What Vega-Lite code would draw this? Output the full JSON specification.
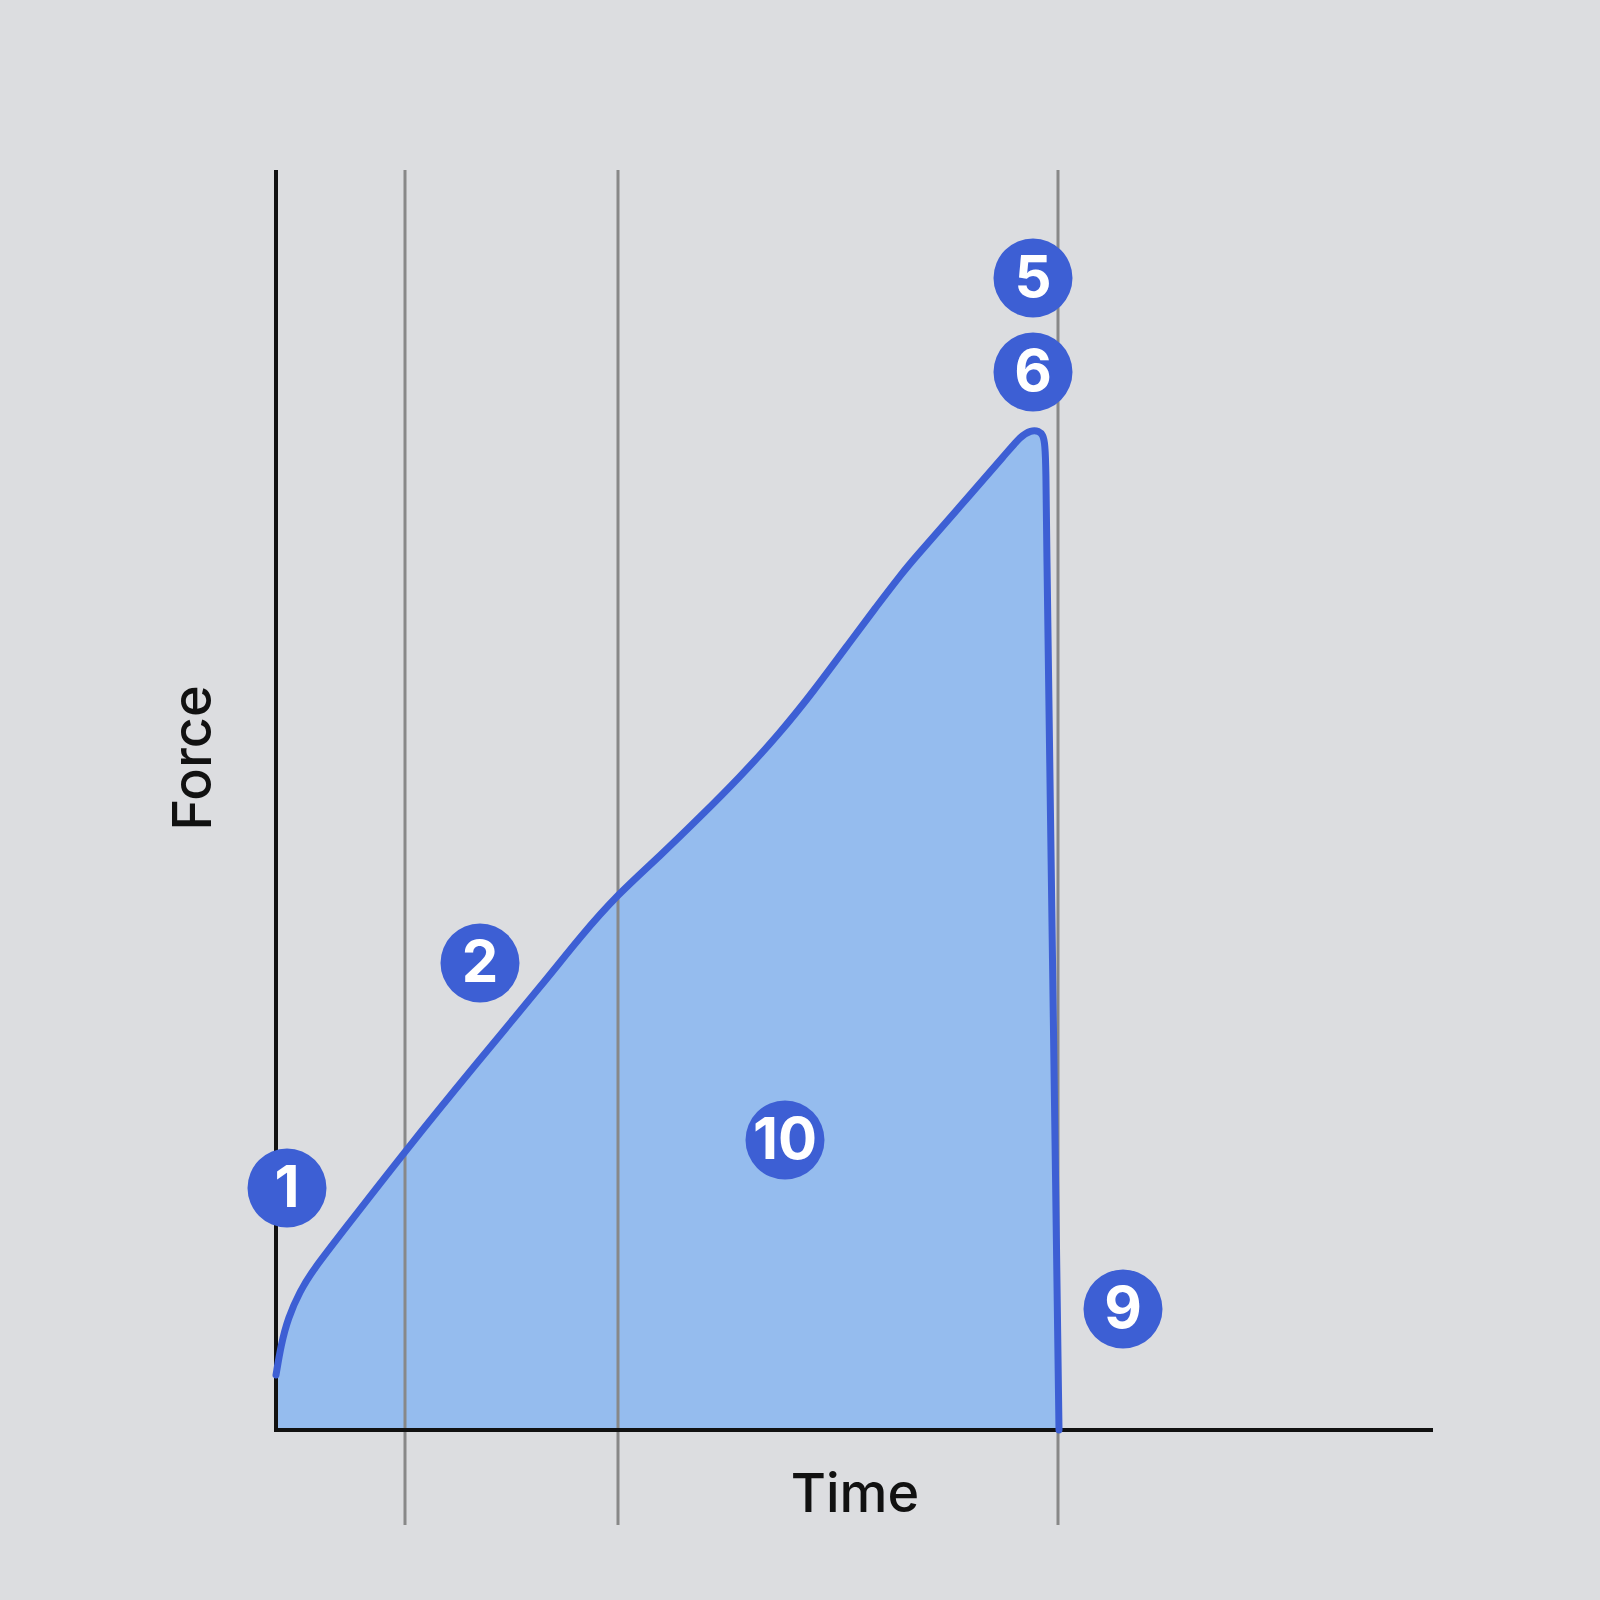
{
  "$schema": "https://vega.github.io/schema/vega-lite/v6.json",
  "width": 1600,
  "height": 1600,
  "padding": 0,
  "autosize": {"type": "fit", "contains": "padding"},
  "background": "#dcdde0",
  "config": {
    "view": {"stroke": null},
    "font": "Inter"
  },
  "datasets": {
    "curve": [
      {"time": 0.0, "force": 0.55},
      {"time": 0.05, "force": 0.85},
      {"time": 0.12, "force": 1.12},
      {"time": 0.24, "force": 1.39},
      {"time": 0.37, "force": 1.6},
      {"time": 0.64, "force": 1.95},
      {"time": 1.3, "force": 2.8},
      {"time": 2.0, "force": 3.66},
      {"time": 2.7, "force": 4.5},
      {"time": 3.04, "force": 4.93},
      {"time": 3.42, "force": 5.36},
      {"time": 3.84, "force": 5.74},
      {"time": 4.24, "force": 6.13},
      {"time": 4.64, "force": 6.53},
      {"time": 5.04, "force": 6.97},
      {"time": 5.37, "force": 7.38},
      {"time": 5.74, "force": 7.88},
      {"time": 6.0, "force": 8.23},
      {"time": 6.27, "force": 8.58},
      {"time": 6.37, "force": 8.7},
      {"time": 6.8, "force": 9.19},
      {"time": 7.34, "force": 9.81},
      {"time": 7.44, "force": 9.93},
      {"time": 7.55, "force": 10.0},
      {"time": 7.63, "force": 9.99},
      {"time": 7.67, "force": 9.95},
      {"time": 7.69, "force": 9.86},
      {"time": 7.7, "force": 9.6},
      {"time": 7.705, "force": 8.99},
      {"time": 7.74, "force": 6.5},
      {"time": 7.8, "force": 2.2},
      {"time": 7.83, "force": 0.0}
    ],
    "guides": [
      {"time": 1.29, "force": 12.6, "time2": 1.29, "force2": -0.95},
      {"time": 3.42, "force": 12.6, "time2": 3.42, "force2": -0.95},
      {"time": 7.82, "force": 12.6, "time2": 7.82, "force2": -0.95}
    ],
    "axes": [
      {"time": 0, "force": 12.6, "time2": 0, "force2": -0.02},
      {"time": 0, "force": 0, "time2": 11.57, "force2": 0}
    ],
    "badges": [
      {"label": "1", "time": 0.11, "force": 2.42},
      {"label": "2", "time": 2.04, "force": 4.67},
      {"label": "5", "time": 7.57, "force": 11.52},
      {"label": "6", "time": 7.57, "force": 10.58},
      {"label": "9", "time": 8.47, "force": 1.21},
      {"label": "10", "time": 5.09, "force": 2.9}
    ],
    "titles": [
      {"title": "Force", "time": -0.81, "force": 6.72, "angle": 270},
      {"title": "Time", "time": 5.79, "force": -0.66, "angle": 0}
    ]
  },
  "encoding": {
    "x": {
      "field": "time",
      "type": "quantitative",
      "scale": {"domain": [-2.76, 13.24], "nice": false, "zero": false},
      "axis": null
    },
    "y": {
      "field": "force",
      "type": "quantitative",
      "scale": {"domain": [-1.7, 14.3], "nice": false, "zero": false},
      "axis": null
    }
  },
  "layer": [
    {
      "data": {"name": "curve"},
      "mark": {"type": "area", "color": "#95bcee", "interpolate": "basis"},
      "encoding": {"y2": {"datum": 0}}
    },
    {
      "data": {"name": "guides"},
      "mark": {"type": "rule", "color": "#888888", "strokeWidth": 3},
      "encoding": {
        "x2": {"field": "time2"},
        "y2": {"field": "force2"}
      }
    },
    {
      "data": {"name": "axes"},
      "mark": {"type": "rule", "color": "#111111", "strokeWidth": 4},
      "encoding": {
        "x2": {"field": "time2"},
        "y2": {"field": "force2"}
      }
    },
    {
      "data": {"name": "curve"},
      "mark": {
        "type": "line",
        "color": "#3d5fd4",
        "strokeWidth": 7,
        "interpolate": "basis",
        "strokeCap": "round",
        "strokeJoin": "round"
      },
      "encoding": {}
    },
    {
      "data": {"name": "badges"},
      "mark": {"type": "point", "shape": "circle", "filled": true, "color": "#3d5fd4", "opacity": 1, "size": 6240}
    },
    {
      "data": {"name": "badges"},
      "mark": {
        "type": "text",
        "color": "white",
        "fontSize": 58,
        "fontWeight": "bold",
        "align": "center",
        "baseline": "middle",
        "dy": 2
      },
      "encoding": {"text": {"field": "label"}}
    },
    {
      "data": {"name": "titles"},
      "mark": {
        "type": "text",
        "color": "#111111",
        "fontSize": 54,
        "fontWeight": 500,
        "align": "center",
        "baseline": "middle"
      },
      "encoding": {
        "text": {"field": "title"},
        "angle": {"field": "angle", "type": "quantitative", "scale": null}
      }
    }
  ]
}
